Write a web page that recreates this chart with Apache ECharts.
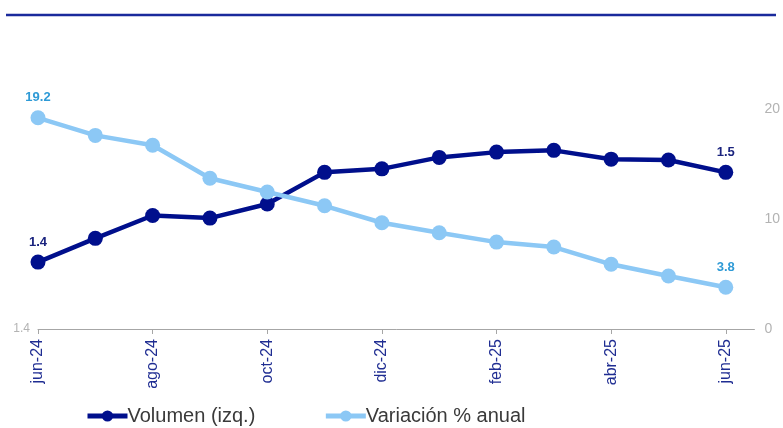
<!DOCTYPE html>
<html>
<head>
<meta charset="utf-8">
<script src="https://cdn.jsdelivr.net/npm/echarts@6/dist/echarts.min.js"></script>
<style>
  html, body { margin: 0; padding: 0; background: #fff; }
  #chart { width: 783px; height: 428px; }
</style>
</head>
<body>
<div id="chart"></div>
<script>
  // meses (eje x)
  var months = ['jun-24', 'jul-24', 'ago-24', 'sep-24', 'oct-24', 'nov-24', 'dic-24',
    'ene-25', 'feb-25', 'mar-25', 'abr-25', 'may-25', 'jun-25']
  // volumen (eje izq.)
  var volumen = [1.426, 1.453, 1.479, 1.476, 1.492, 1.528, 1.532, 1.545, 1.551, 1.553, 1.543, 1.542, 1.528]
  // variacion % anual (eje der.)
  var variacion = [19.2, 17.6, 16.7, 13.7, 12.45, 11.2, 9.66, 8.75, 7.9, 7.45, 5.88, 4.82, 3.8]
  var labelTicks = [0, 2, 4, 6, 8, 10, 12]
  var rightTicks = [0, 10, 20]

  var last = months.length - 1

  function buildData(arr, color) {
    return arr.map(function (v, i) {
      return {
        value: [i, v],
        label: {
          show: i === 0 || i === last,
          position: 'top',
          distance: 6,
          color: color,
          fontWeight: 'bold',
          fontSize: 13,
          fontFamily: 'Arial, Liberation Sans, sans-serif',
          formatter: function (p) { return p.value[1].toFixed(1) }
        }
      }
    })
  }

  var chart = echarts.init(document.getElementById('chart'))
  chart.setOption({
    animation: false,
    textStyle: { fontFamily: 'Arial, Liberation Sans, sans-serif' },
    graphic: [{
      type: 'line',
      shape: { x1: 6, y1: 15, x2: 776, y2: 15 },
      style: { stroke: '#1a2a9c', lineWidth: 2.5 }
    }],
    grid: {
      left: 38,
      right: 26,
      top: 109,
      bottom: 99
    },
    legend: {
      left: 85,
      top: 406,
      padding: 0,
      itemWidth: 40,
      itemHeight: 14,
      itemGap: 68,
      lineStyle: { width: 5 },
      textStyle: {
        fontSize: 20,
        color: '#3a3a3a',
        padding: [0, 0, 0, -5]
      },
      data: ['Volumen (izq.)', 'Variación % anual']
    },
    xAxis: {
      type: 'value',
      min: 0,
      max: 12.5,
      interval: 2,
      axisLine: { show: true, lineStyle: { color: '#a6a6a6', width: 1 } },
      axisTick: { show: true, length: 5, customValues: labelTicks, lineStyle: { color: '#a6a6a6' } },
      splitLine: { show: false },
      axisLabel: {
        customValues: labelTicks,
        rotate: 90,
        margin: 10,
        color: '#1f2d92',
        fontSize: 16,
        formatter: function (v) { return months[v] || '' }
      }
    },
    yAxis: [{
      type: 'value',
      min: 1.35,
      max: 1.6,
      interval: 0.05,
      axisLine: { show: false },
      axisTick: { show: false },
      splitLine: { show: false },
      axisLabel: {
        customValues: [1.35],
        color: '#b3b3b3',
        fontSize: 12,
        margin: 8,
        formatter: function (v) { return v.toFixed(1) }
      }
    }, {
      type: 'value',
      min: 0,
      max: 20,
      interval: 10,
      position: 'right',
      axisLine: { show: false },
      axisTick: { show: false },
      splitLine: { show: false },
      axisLabel: {
        customValues: rightTicks,
        color: '#b3b3b3',
        fontSize: 14,
        margin: 10
      }
    }],
    series: [{
      name: 'Volumen (izq.)',
      type: 'line',
      yAxisIndex: 0,
      symbol: 'circle',
      symbolSize: 15,
      itemStyle: { color: '#000f8c' },
      lineStyle: { color: '#000f8c', width: 4.5 },
      data: buildData(volumen, '#1a237e')
    }, {
      name: 'Variación % anual',
      type: 'line',
      yAxisIndex: 1,
      symbol: 'circle',
      symbolSize: 15,
      itemStyle: { color: '#8cc8f5' },
      lineStyle: { color: '#8cc8f5', width: 4.5 },
      data: buildData(variacion, '#2e9ad6')
    }]
  })
</script>
</body>
</html>
